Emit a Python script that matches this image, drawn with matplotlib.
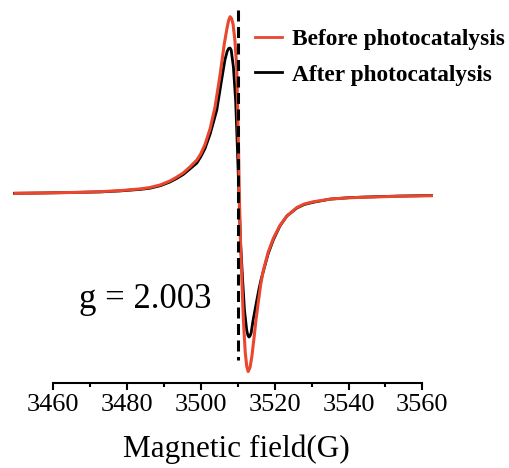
import matplotlib
matplotlib.use("Agg")
import matplotlib.pyplot as plt
from matplotlib.ticker import FixedLocator

# Magnetic field (G) and EPR intensity (a.u.)
field_before = [3449.6, 3456.4, 3461.8, 3467.2, 3472.7, 3478.1, 3483.5, 3486.2, 3489.0,
                3491.6, 3493.5, 3495.2, 3497.0, 3498.9, 3500.0, 3501.1, 3502.5, 3503.8,
                3505.2, 3506.3, 3507.1, 3507.5, 3507.9, 3508.3, 3508.7, 3509.2, 3509.7,
                3509.9, 3510.2, 3510.4, 3510.7, 3511.1, 3511.5, 3512.0, 3512.4, 3512.8,
                3513.3, 3513.8, 3514.4, 3514.9, 3515.6, 3516.2, 3516.9, 3518.2, 3519.6,
                3521.4, 3523.3, 3526.0, 3528.0, 3530.4, 3535.0, 3540.0, 3543.9, 3553.1,
                3562.6]
signal_before = [1.2, 1.5, 1.8, 2.2, 2.8, 3.9, 5.6, 7.0, 9.6,
                 13.5, 17.5, 21.5, 27.5, 34.5, 41.0, 50.0, 66.0, 87.0,
                 120.0, 150.0, 167.0, 174.0, 177.8, 176.0, 170.5, 154.5, 127.8,
                 94.5, 44.5, 0.5, -45.5, -85.5, -125.5, -157.5, -171.5, -177.0,
                 -173.0, -162.0, -143.0, -126.0, -106.0, -90.0, -76.0, -58.0, -44.0,
                 -31.0, -21.5, -13.0, -9.5, -7.3, -4.6, -3.3, -2.8, -1.8,
                 -1.2]

field_after = [3449.3, 3456.4, 3461.8, 3467.2, 3472.7, 3478.1, 3483.5, 3486.2, 3489.0,
               3491.6, 3493.5, 3495.2, 3497.0, 3498.9, 3500.0, 3501.1, 3502.5, 3504.3,
               3505.6, 3506.5, 3507.1, 3507.5, 3507.9, 3508.2, 3508.8, 3509.4, 3509.9,
               3510.3, 3510.7, 3511.3, 3511.8, 3512.4, 3512.7, 3513.0, 3513.3, 3513.6,
               3514.1, 3514.9, 3515.7, 3516.3, 3516.9, 3518.2, 3519.6, 3521.4, 3523.3,
               3526.0, 3528.0, 3530.4, 3535.0, 3540.0, 3543.9, 3553.1, 3562.6]
signal_after = [1.2, 1.5, 1.8, 2.2, 2.6, 3.6, 5.1, 6.3, 8.8,
                12.5, 16.2, 20.0, 25.5, 31.5, 38.0, 46.0, 60.5, 84.5,
                114.5, 134.5, 143.0, 146.0, 146.5, 144.5, 127.5, 94.5, 44.5,
                0.5, -45.5, -85.5, -115.5, -135.5, -140.5, -142.5, -141.5, -138.5,
                -126.5, -110.5, -95.0, -85.0, -77.0, -59.5, -45.5, -31.5, -21.5,
                -13.5, -10.0, -7.8, -4.6, -3.2, -2.6, -1.6, -1.0]

g_field = 3510
g_label = "g = 2.003"
xticks = [3460, 3480, 3500, 3520, 3540, 3560]
minor_ticks = [3470, 3490, 3510, 3530, 3550]

serif = ["Liberation Serif", "DejaVu Serif"]
red = "#E9472E"

fig = plt.figure(figsize=(5.09, 4.68), dpi=100)
ax = fig.add_axes([0.025, 0.1816, 0.8265, 0.8077])

ax.plot(field_after, signal_after, color="black", lw=2.0, solid_joinstyle="round",
        label="After photocatalysis", zorder=2)
ax.plot(field_before, signal_before, color=red, lw=2.2, solid_joinstyle="round",
        label="Before photocatalysis", zorder=3)
ax.plot([g_field, g_field], [184.5, -165.5], color="black", lw=2.2,
        dashes=(3.6, 1.8), zorder=4)

ax.set_xlim(3449, 3563)
ax.set_ylim(-188.5, 189.5)

for s in ["top", "left", "right"]:
    ax.spines[s].set_visible(False)
ax.spines["bottom"].set_bounds(3460, 3560)
ax.spines["bottom"].set_linewidth(1.5)
ax.set_yticks([])
ax.set_xticks(xticks)
ax.xaxis.set_minor_locator(FixedLocator(minor_ticks))
ax.tick_params(axis="x", which="major", direction="out", length=5, width=1.5,
               labelsize=19, pad=3)
ax.tick_params(axis="x", which="minor", direction="out", length=3, width=1.5)
for lab in ax.get_xticklabels():
    lab.set_fontfamily(serif)
ax.set_xlabel("Magnetic field(G)", fontsize=22.5, family=serif, labelpad=11)
ax.xaxis.set_label_coords(0.531, -0.135)

ax.text(0.155, 0.36, g_label, transform=fig.transFigure, fontsize=25,
        family=serif, va="center", ha="left")

handles, labels = ax.get_legend_handles_labels()
leg = ax.legend(handles[::-1], labels[::-1], loc="upper left",
                bbox_to_anchor=(0.46, 0.984), bbox_transform=fig.transFigure,
                frameon=False, handlelength=1.15, handletextpad=0.45,
                labelspacing=0.62,
                prop={"family": serif, "weight": "bold", "size": 16.8})
for line in leg.get_lines():
    line.set_linewidth(2.0)

fig.savefig("out.png", dpi=100)
